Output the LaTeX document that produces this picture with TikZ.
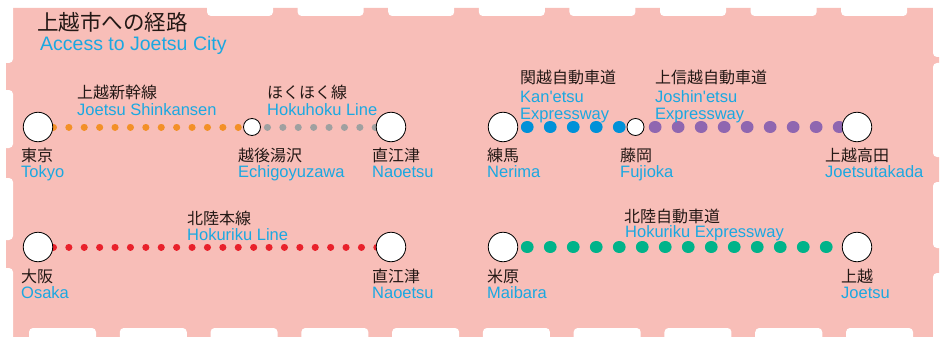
\documentclass[tikz,border=0pt]{standalone}
\usepackage{fontspec}
\setmainfont{Liberation Sans}
\newfontfamily\jpfont{Noto Sans CJK JP}
\usetikzlibrary{positioning}

\definecolor{ticket}{HTML}{F8BEB8}
\definecolor{ink}{HTML}{231815}
\definecolor{sky}{HTML}{1BA8E1}
\definecolor{shinkansen}{HTML}{F39027}
\definecolor{hokuhoku}{HTML}{9FA0A0}
\definecolor{hokuriku}{HTML}{E9212B}
\definecolor{kanetsu}{HTML}{0091D8}
\definecolor{joshinetsu}{HTML}{8F66B0}
\definecolor{hokurikuexp}{HTML}{00B38A}

\pgfdeclarelayer{paper}
\pgfdeclarelayer{track}
\pgfsetlayers{paper,track,main}

\tikzset{
	station/.style={draw, circle, fill=white, line width=0.8pt,
		minimum size=29.5pt, inner sep=0pt},
	transfer/.style={station, minimum size=17pt},
	jplabel/.style={anchor=base west, inner sep=0pt, text=ink,
		font=\jpfont\fontsize{16}{17}\selectfont},
	enlabel/.style={anchor=base west, inner sep=0pt, text=sky,
		font=\fontsize{16.5}{17}\selectfont},
	raildots/.style={line width=7pt, line cap=round,
		dash pattern=on 0.1pt off 15.3pt},
	roaddots/.style={line width=12.6pt, line cap=round,
		dash pattern=on 0.1pt off 22.9pt},
	notch/.style={fill=white, rounded corners=4pt},
}

% name of a stop: node, x, y, Japanese, English
\newcommand{\stationname}[5]{%
\node[jplabel] (#1-jp) at (#2,#3) {#4};%
\node[enlabel] (#1-en) at (#2,#3+16) {#5};%
}

\begin{document}
\begin{tikzpicture}[x=1pt, y=-1pt]
\useasboundingbox (0,0) rectangle (945,337);

% Ticket
\begin{pgfonlayer}{paper}
\fill[ticket, rounded corners=3pt] (6,8) rectangle (939,340);
\foreach \i in {0,...,7}
	\fill[notch] (207+\i*90.6,-6) rectangle ++(66,22);
\foreach \i in {0,...,9}
	\fill[notch] (29+\i*90.78,328) rectangle ++(67,20);
\foreach \a/\b in {-6/57, 63/157, 182/248, 273/345}
	\fill[notch] (933,\a) rectangle (952,\b);
\foreach \a/\b in {-6/63, 90/148, 178/240, 268/345}
	\fill[notch] (-6,\a) rectangle (13,\b);
\end{pgfonlayer}

% Title
\node [anchor=base west, inner sep=0pt, text=ink,
	font=\jpfont\fontsize{21.5}{22}\selectfont
]  (title-jp) at (37,30.5) {上越市への経路};
\node [anchor=base west, inner sep=0pt, text=sky,
	font=\fontsize{19.5}{20}\selectfont
]  (title-en) at (40,51) {Access to Joetsu City};

% Stops
\node [station]  (tokyo) at (38,127) {};
\node [transfer] (yuzawa) at (252,127) {};
\node [station]  (naoetsu1) at (391,127) {};
\node [station]  (nerima) at (503,127) {};
\node [transfer] (fujioka) at (635.5,127) {};
\node [station]  (takada) at (857,127) {};
\node [station]  (osaka) at (38,247) {};
\node [station]  (naoetsu2) at (391,247) {};
\node [station]  (maibara) at (503,247) {};
\node [station]  (joetsu) at (857,247) {};

% Lines between stops
\begin{pgfonlayer}{track}
\draw[raildots, shinkansen] (tokyo.center) -- (yuzawa.center);
\draw[raildots, hokuhoku] (yuzawa.center) -- (naoetsu1.center);
\draw[raildots, hokuriku] (osaka.center) -- (naoetsu2.center);
\draw[roaddots, kanetsu, dash phase=21.8pt] (nerima.center) -- (fujioka.center);
\draw[roaddots, joshinetsu, dash phase=3.4pt] (fujioka.center) -- (takada.center);
\draw[roaddots, hokurikuexp, dash phase=21.8pt] (maibara.center) -- (joetsu.center);
\end{pgfonlayer}

% Stop names
\stationname{tokyo}{21}{161}{東京}{Tokyo}
\stationname{yuzawa}{238}{161}{越後湯沢}{Echigoyuzawa}
\stationname{naoetsu1}{372}{161}{直江津}{Naoetsu}
\stationname{nerima}{487}{161}{練馬}{Nerima}
\stationname{fujioka}{620}{161}{藤岡}{Fujioka}
\stationname{takada}{825}{161}{上越高田}{Joetsutakada}
\stationname{osaka}{21}{282}{大阪}{Osaka}
\stationname{naoetsu2}{372}{282}{直江津}{Naoetsu}
\stationname{maibara}{487}{282}{米原}{Maibara}
\stationname{joetsu}{841}{282}{上越}{Joetsu}

% Line names
\node [jplabel] (shinkansen-jp) at (77,99) {上越新幹線};
\node [enlabel] (shinkansen-en) at (77,115) {Joetsu Shinkansen};
\node [jplabel] (hokuhoku-jp) at (267,99) {ほくほく線};
\node [enlabel] (hokuhoku-en) at (267,115) {Hokuhoku Line};
\node [jplabel] (kanetsu-jp) at (520,84) {関越自動車道};
\node [enlabel] (kanetsu-en) at (520,102) {Kan\textquotesingle etsu};
\node [enlabel] (kanetsu-way) at (520,119) {Expressway};
\node [jplabel] (joshinetsu-jp) at (655,84) {上信越自動車道};
\node [enlabel] (joshinetsu-en) at (655,102) {Joshin\textquotesingle etsu};
\node [enlabel] (joshinetsu-way) at (655,119) {Expressway};
\node [jplabel] (hokuriku-jp) at (187,224) {北陸本線};
\node [enlabel] (hokuriku-en) at (187,240) {Hokuriku Line};
\node [jplabel] (hokurikuexp-jp) at (624,222) {北陸自動車道};
\node [enlabel] (hokurikuexp-en) at (625,237) {Hokuriku Expressway};

\end{tikzpicture}
\end{document}
